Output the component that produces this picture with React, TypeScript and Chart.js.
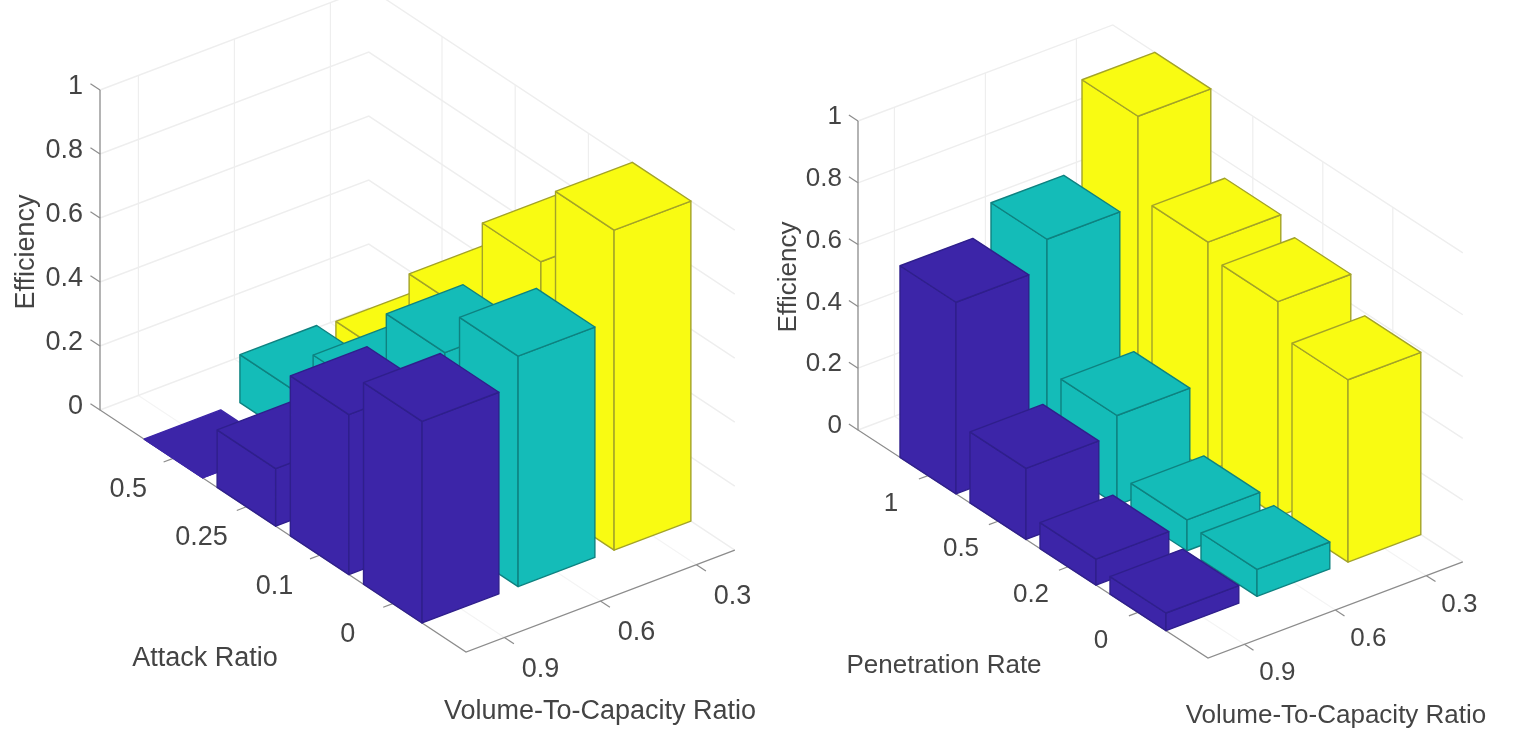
import React, { useEffect, useRef } from "react";
import { Chart, registerables } from "chart.js";

Chart.register(...registerables);

// ---------- values ----------
const efficiencyTicks = [0, 0.2, 0.4, 0.6, 0.8, 1];
const volumeLabels = ["0.9", "0.6", "0.3"];
const attackLabels = ["0.5", "0.25", "0.1", "0"];
const penetrationLabels = ["1", "0.5", "0.2", "0"];

const attackVolume09 = [0, 0.18, 0.5, 0.63];
const attackVolume06 = [0.15, 0.3, 0.58, 0.72];
const attackVolume03 = [0.14, 0.44, 0.75, 1.0];

const penetrationVolume09 = [0.62, 0.23, 0.084, 0.057];
const penetrationVolume06 = [0.713, 0.29, 0.1, 0.087];
const penetrationVolume03 = [1.0, 0.74, 0.695, 0.59];

// ---------- styling ----------
const barFills = ["#3c25a8", "#14bcb8", "#f9fb12"];
const barEdges = ["#2f1f8c", "#0e8280", "#a3a328"];
const FONT = "'Liberation Sans', Arial, sans-serif";
const TEXT = "#444444";
const GRID = "#eeeeee";
const FLOOR_GRID = "#f4f4f4";
const AXIS = "#8c8c8c";
const BAR_HALF = 0.4;
const ROW_SPAN = 5;
const COL_START = 0.4;
const COL_SPAN = 2.8;

type View = {
  width: number;
  left: number;
  origin: [number, number];
  rowStep: [number, number];
  colStep: [number, number];
  zSpan: number;
  fontSize: number;
  rowName: string;
  rowLabels: string[];
  series: number[][];
  rowLabelShift: [number, number];
  colLabelShift: [number, number];
  zLabelShift: [number, number];
  rowTitle: [number, number];
  colTitle: [number, number];
  zTitle: [number, number];
};

const leftView: View = {
  width: 765,
  left: 0,
  origin: [100, 410],
  rowStep: [73.2, 48.4],
  colStep: [96, -36.4],
  zSpan: 320,
  fontSize: 27,
  rowName: "Attack Ratio",
  rowLabels: attackLabels,
  series: [attackVolume09, attackVolume06, attackVolume03],
  rowLabelShift: [-45, 31],
  colLabelShift: [36, 32],
  zLabelShift: [-17, -3],
  rowTitle: [205, 659],
  colTitle: [600, 712],
  zTitle: [27, 252],
};

const rightView: View = {
  width: 760,
  left: 765,
  origin: [93, 430],
  rowStep: [70, 45.6],
  colStep: [91, -34.3],
  zSpan: 309,
  fontSize: 26,
  rowName: "Penetration Rate",
  rowLabels: penetrationLabels,
  series: [penetrationVolume09, penetrationVolume06, penetrationVolume03],
  rowLabelShift: [-37, 28],
  colLabelShift: [33, 29],
  zLabelShift: [-16, -4],
  rowTitle: [179, 666],
  colTitle: [571, 716],
  zTitle: [24, 277],
};

const HEIGHT = 743;

function makeProjection(v: View) {
  const kx = v.colStep[0] / v.rowStep[0];
  const rowDz = -v.rowStep[1] / v.zSpan;
  const colDz = -v.colStep[1] / v.zSpan;
  return (row: number, col: number, z: number) => ({
    x: row + col * kx,
    y: z + row * rowDz + col * colDz,
  });
}

function lineSet(data: { x: number; y: number }[], color: string, width: number) {
  return {
    type: "scatter",
    showLine: true,
    data,
    borderColor: color,
    borderWidth: width,
    backgroundColor: "transparent",
    pointRadius: 0,
    pointHoverRadius: 0,
    fill: false,
    tension: 0,
    clip: false,
  };
}

function faceSet(data: { x: number; y: number }[], fillColor: string, edge: string) {
  return {
    ...lineSet(data, edge, 1.4),
    backgroundColor: fillColor,
    fill: "shape",
    borderJoinStyle: "round",
  };
}

function buildDatasets(v: View) {
  const p = makeProjection(v);
  const sets: any[] = [];
  const rowPos = v.rowLabels.map((_, i) => i + 1);
  const colPos = volumeLabels.map((_, i) => i + COL_START);

  // walls and floor grid
  colPos.forEach((c) => {
    sets.push(lineSet([p(ROW_SPAN, c, 0), p(0, c, 0)], FLOOR_GRID, 1.2));
    sets.push(lineSet([p(0, c, 0), p(0, c, 1)], GRID, 1.2));
  });
  rowPos.forEach((r) => {
    sets.push(lineSet([p(r, 0, 0), p(r, COL_SPAN, 0)], FLOOR_GRID, 1.2));
    sets.push(lineSet([p(r, COL_SPAN, 0), p(r, COL_SPAN, 1)], GRID, 1.2));
  });
  efficiencyTicks.forEach((z) => {
    sets.push(lineSet([p(0, 0, z), p(0, COL_SPAN, z), p(ROW_SPAN, COL_SPAN, z)], GRID, 1.4));
  });

  // axes and tick marks
  sets.push(lineSet([p(0, 0, 1), p(0, 0, 0), p(ROW_SPAN, 0, 0), p(ROW_SPAN, COL_SPAN, 0)], AXIS, 1.3));
  efficiencyTicks.forEach((z) => {
    sets.push(lineSet([p(0, 0, z), p(-0.13, 0, z)], AXIS, 1.2));
  });
  rowPos.forEach((r) => {
    sets.push(lineSet([p(r, 0, 0), p(r, -0.1, 0)], AXIS, 1.2));
  });
  colPos.forEach((c) => {
    sets.push(lineSet([p(ROW_SPAN, c, 0), p(ROW_SPAN + 0.13, c, 0)], AXIS, 1.2));
  });

  // bars, painted back to front
  for (let s = v.series.length - 1; s >= 0; s--) {
    const values = v.series[s];
    const c = colPos[s];
    values.forEach((z, i) => {
      const r = rowPos[i];
      const r0 = r - BAR_HALF;
      const r1 = r + BAR_HALF;
      const c0 = c - BAR_HALF;
      const c1 = c + BAR_HALF;
      const fill = barFills[s];
      const edge = z > 0 ? barEdges[s] : barFills[s];
      sets.push(faceSet([p(r0, c0, 0), p(r1, c0, 0), p(r1, c0, z), p(r0, c0, z), p(r0, c0, 0)], fill, edge));
      sets.push(faceSet([p(r1, c0, 0), p(r1, c1, 0), p(r1, c1, z), p(r1, c0, z), p(r1, c0, 0)], fill, edge));
      sets.push(faceSet([p(r0, c0, z), p(r1, c0, z), p(r1, c1, z), p(r0, c1, z), p(r0, c0, z)], fill, edge));
    });
  }
  // first in the list is painted first
  sets.forEach((d, i) => (d.order = -i));
  return sets;
}

function labelsPlugin(v: View) {
  const p = makeProjection(v);
  return {
    id: "axisText",
    afterDraw(chart: any) {
      const { ctx, scales } = chart;
      const at = (pt: { x: number; y: number }) => [
        scales.x.getPixelForValue(pt.x),
        scales.y.getPixelForValue(pt.y),
      ];
      ctx.save();
      ctx.fillStyle = TEXT;
      ctx.textBaseline = "middle";
      ctx.font = `${v.fontSize}px ${FONT}`;
      ctx.textAlign = "right";
      efficiencyTicks.forEach((z) => {
        const [x, y] = at(p(0, 0, z));
        ctx.fillText(String(z), x + v.zLabelShift[0], y + v.zLabelShift[1]);
      });
      ctx.textAlign = "center";
      v.rowLabels.forEach((t, i) => {
        const [x, y] = at(p(i + 1, 0, 0));
        ctx.fillText(t, x + v.rowLabelShift[0], y + v.rowLabelShift[1]);
      });
      volumeLabels.forEach((t, i) => {
        const [x, y] = at(p(ROW_SPAN, i + COL_START, 0));
        ctx.fillText(t, x + v.colLabelShift[0], y + v.colLabelShift[1]);
      });
      ctx.fillText(v.rowName, v.rowTitle[0], v.rowTitle[1]);
      ctx.fillText("Volume-To-Capacity Ratio", v.colTitle[0], v.colTitle[1]);
      ctx.translate(v.zTitle[0], v.zTitle[1]);
      ctx.rotate(-Math.PI / 2);
      ctx.fillText("Efficiency", 0, 0);
      ctx.restore();
    },
  };
}

function makeChart(canvas: HTMLCanvasElement, v: View) {
  return new Chart(canvas, {
    type: "scatter",
    data: { datasets: buildDatasets(v) },
    plugins: [labelsPlugin(v)],
    options: {
      animation: false,
      responsive: false,
      events: [],
      layout: { padding: 0 },
      plugins: { legend: { display: false }, tooltip: { enabled: false }, title: { display: false } },
      scales: {
        x: {
          type: "linear",
          display: false,
          min: -v.origin[0] / v.rowStep[0],
          max: (v.width - v.origin[0]) / v.rowStep[0],
        },
        y: {
          type: "linear",
          display: false,
          min: (v.origin[1] - HEIGHT) / v.zSpan,
          max: v.origin[1] / v.zSpan,
        },
      },
    } as any,
  } as any);
}

function Panel({ view }: { view: View }) {
  const ref = useRef<HTMLCanvasElement>(null);
  useEffect(() => {
    const chart = makeChart(ref.current!, view);
    return () => chart.destroy();
  }, [view]);
  return (
    <canvas
      ref={ref}
      width={view.width}
      height={HEIGHT}
      style={{ position: "absolute", left: view.left, top: 0, width: view.width, height: HEIGHT, display: "block", filter: "blur(0.5px)" }}
    />
  );
}

export default function App() {
  return (
    <div style={{ position: "absolute", left: 0, top: 0, width: 1525, height: HEIGHT, background: "#fff", overflow: "hidden" }}>
      <Panel view={leftView} />
      <Panel view={rightView} />
    </div>
  );
}
